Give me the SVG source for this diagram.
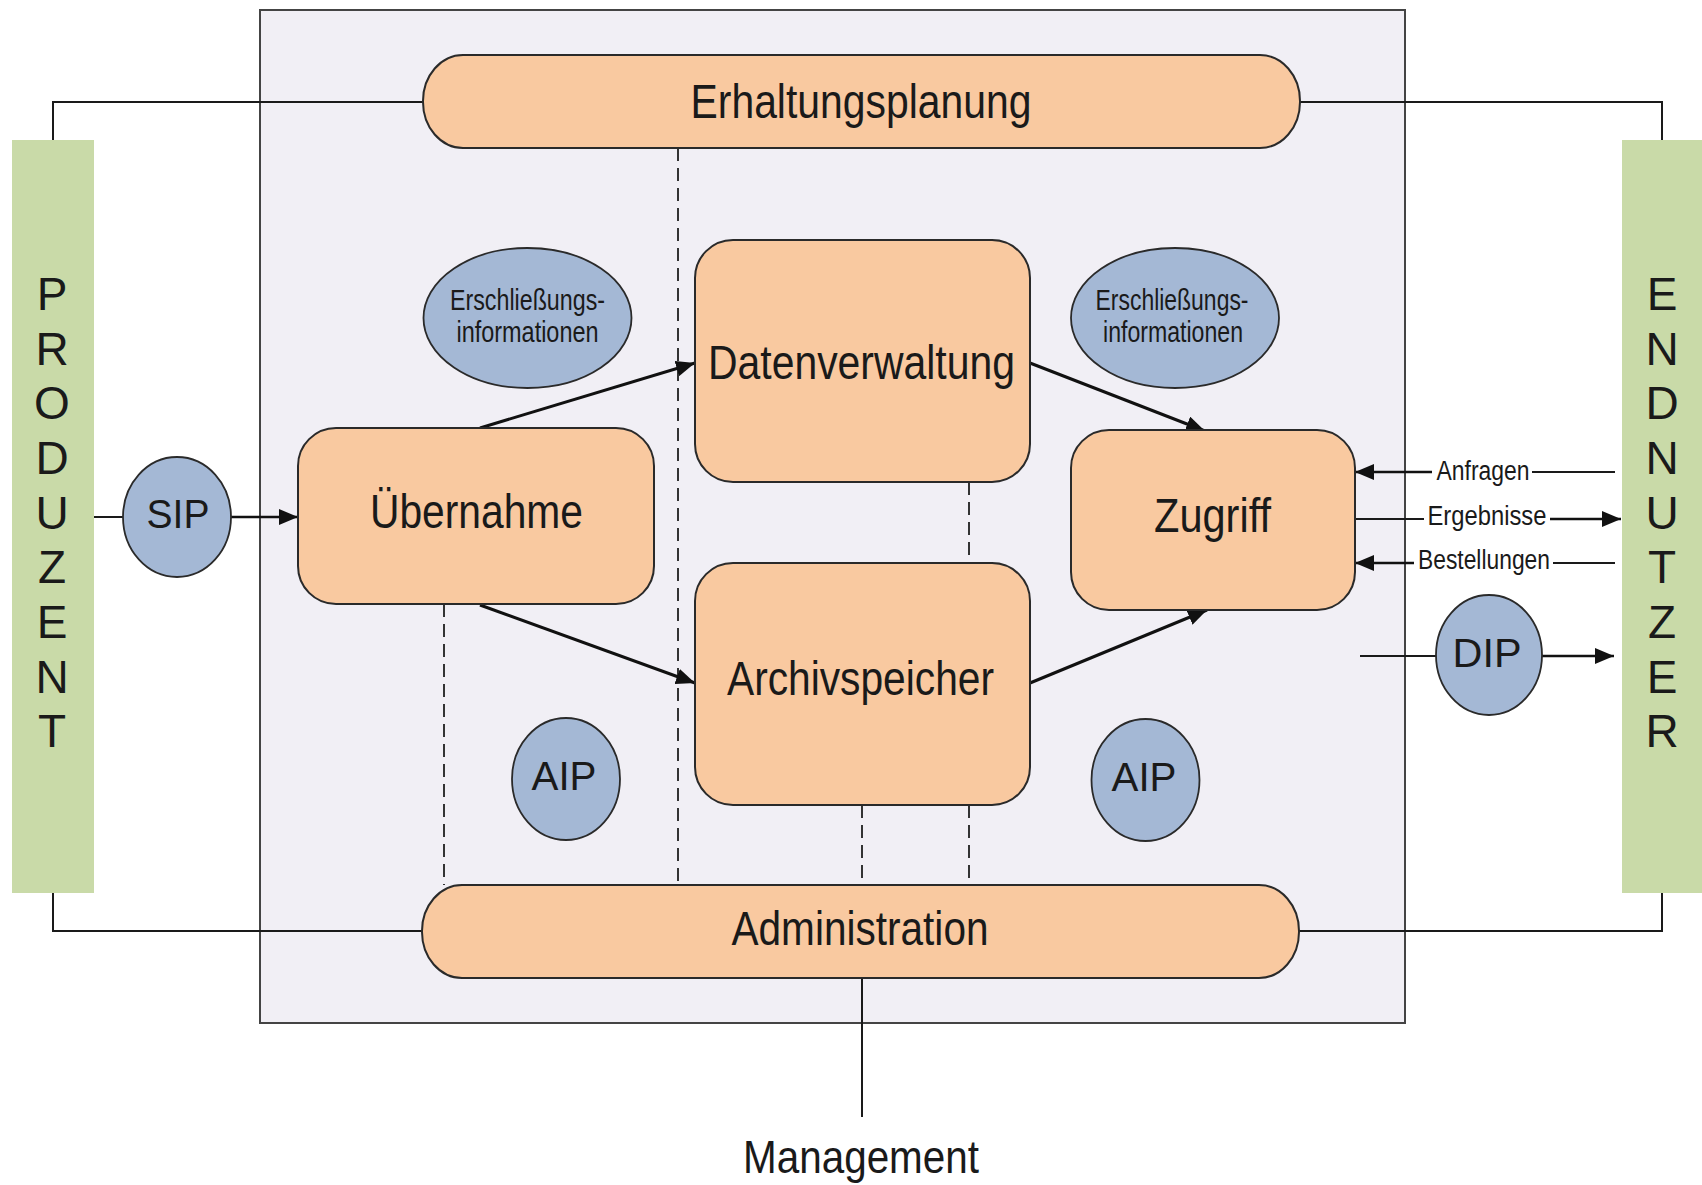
<svg xmlns="http://www.w3.org/2000/svg" width="1702" height="1185" viewBox="0 0 1702 1185">
<style>
text{font-family:"Liberation Sans",Arial,sans-serif;fill:#1a1a1a;text-anchor:middle}
.big{font-size:48px}
.pk{font-size:40px}
.mid{font-size:29px}
.sm{font-size:27px}
.let{font-size:46px}
.box{fill:#f9c9a0;stroke:#2a2a2a;stroke-width:2}
.ell{fill:#a4b8d5;stroke:#2a2a2a;stroke-width:1.8}
.bar{fill:#c9daa8}
.ln{stroke:#1a1a1a;stroke-width:2;fill:none}
.ar{stroke:#111;stroke-width:3;fill:none;marker-end:url(#ah)}
.ar2{stroke:#111;stroke-width:2.5;fill:none;marker-end:url(#ah)}
.dash{stroke:#333;stroke-width:2;stroke-dasharray:13 7;fill:none}
</style>
<defs>
<marker id="ah" markerUnits="userSpaceOnUse" markerWidth="20" markerHeight="16" refX="19" refY="8" orient="auto">
<path d="M0,0 L19,8 L0,16 z" fill="#111"/>
</marker>
</defs>
<rect width="1702" height="1185" fill="#ffffff"/>
<g id="frame">
<rect x="260" y="10" width="1145" height="1013" fill="#f1eff5" stroke="#444" stroke-width="2"/>
</g>
<g id="connectors">
<path class="ln" d="M423,102 H53 V140"/>
<path class="ln" d="M1300,102 H1662 V140"/>
<path class="ln" d="M422,931 H53 V893"/>
<path class="ln" d="M1299,931 H1662 V893"/>
<path class="ln" d="M862,978 V1117"/>
<path class="dash" d="M678,148 V885"/>
<path class="dash" d="M444,604 V885"/>
<path class="dash" d="M969,482 V563"/>
<path class="dash" d="M969,805 V885"/>
<path class="dash" d="M862,805 V885"/>
<path class="ln" d="M94,517 H123"/>
<path class="ar2" d="M231,517 H298"/>
<path class="ar" d="M480,428 L695,363"/>
<path class="ar" d="M480,605 L695,683"/>
<path class="ar" d="M1030,363 L1205,431"/>
<path class="ar" d="M1030,683 L1207,610"/>
<path class="ar2" d="M1432,472 H1355"/>
<path class="ln" d="M1615,472 H1532"/>
<path class="ln" d="M1355,519 H1424"/>
<path class="ar2" d="M1550,519 H1621"/>
<path class="ar2" d="M1414,563 H1355"/>
<path class="ln" d="M1615,563 H1553"/>
<path class="ln" d="M1360,656 H1436"/>
<path class="ar2" d="M1542,656 H1614"/>
</g>
<g id="produzent">
<rect class="bar" x="12" y="140" width="82" height="753"/>
<text class="let" x="52" y="310">P</text>
<text class="let" x="52" y="364.6">R</text>
<text class="let" x="52" y="419">O</text>
<text class="let" x="52" y="474">D</text>
<text class="let" x="52" y="528.5">U</text>
<text class="let" x="52" y="583">Z</text>
<text class="let" x="52" y="638">E</text>
<text class="let" x="52" y="692.5">N</text>
<text class="let" x="52" y="747">T</text>
</g>
<g id="endnutzer">
<rect class="bar" x="1622" y="140" width="80" height="753"/>
<text class="let" x="1662" y="310">E</text>
<text class="let" x="1662" y="364.6">N</text>
<text class="let" x="1662" y="419">D</text>
<text class="let" x="1662" y="474">N</text>
<text class="let" x="1662" y="528.5">U</text>
<text class="let" x="1662" y="583">T</text>
<text class="let" x="1662" y="638">Z</text>
<text class="let" x="1662" y="692.5">E</text>
<text class="let" x="1662" y="747">R</text>
</g>
<g id="erhaltungsplanung">
<rect class="box" x="423" y="55" width="877" height="93" rx="40" ry="46"/>
<text class="big" x="861" y="118" textLength="341" lengthAdjust="spacingAndGlyphs">Erhaltungsplanung</text>
</g>
<g id="administration">
<rect class="box" x="422" y="885" width="877" height="93" rx="40" ry="46"/>
<text class="big" x="860" y="945" textLength="257" lengthAdjust="spacingAndGlyphs">Administration</text>
</g>
<g id="datenverwaltung">
<rect class="box" x="695" y="240" width="335" height="242" rx="38" ry="38"/>
<text class="big" x="861.5" y="379" textLength="307" lengthAdjust="spacingAndGlyphs">Datenverwaltung</text>
</g>
<g id="archivspeicher">
<rect class="box" x="695" y="563" width="335" height="242" rx="38" ry="38"/>
<text class="big" x="860.5" y="695" textLength="267" lengthAdjust="spacingAndGlyphs">Archivspeicher</text>
</g>
<g id="uebernahme">
<rect class="box" x="298" y="428" width="356" height="176" rx="38" ry="38"/>
<text class="big" x="476.5" y="528" textLength="213" lengthAdjust="spacingAndGlyphs">Übernahme</text>
</g>
<g id="zugriff">
<rect class="box" x="1071" y="430" width="284" height="180" rx="38" ry="38"/>
<text class="big" x="1212.5" y="532" textLength="117" lengthAdjust="spacingAndGlyphs">Zugriff</text>
</g>
<g id="erschliessung-links">
<ellipse class="ell" cx="527.5" cy="318" rx="104" ry="70"/>
<text class="mid" x="527.5" y="310" textLength="155" lengthAdjust="spacingAndGlyphs">Erschließungs-</text>
<text class="mid" x="527.5" y="342" textLength="142" lengthAdjust="spacingAndGlyphs">informationen</text>
</g>
<g id="erschliessung-rechts">
<ellipse class="ell" cx="1175" cy="318" rx="104" ry="70"/>
<text class="mid" x="1172" y="310" textLength="153" lengthAdjust="spacingAndGlyphs">Erschließungs-</text>
<text class="mid" x="1173" y="342" textLength="140" lengthAdjust="spacingAndGlyphs">informationen</text>
</g>
<g id="sip">
<ellipse class="ell" cx="177" cy="517" rx="54" ry="60"/>
<text class="pk" x="178" y="528" textLength="63" lengthAdjust="spacingAndGlyphs">SIP</text>
</g>
<g id="aip-links">
<ellipse class="ell" cx="566" cy="779" rx="54" ry="61"/>
<text class="pk" x="564" y="790" textLength="65" lengthAdjust="spacingAndGlyphs">AIP</text>
</g>
<g id="aip-rechts">
<ellipse class="ell" cx="1145.5" cy="780" rx="54" ry="61"/>
<text class="pk" x="1144" y="791" textLength="65" lengthAdjust="spacingAndGlyphs">AIP</text>
</g>
<g id="dip">
<ellipse class="ell" cx="1489" cy="655" rx="53" ry="60"/>
<text class="pk" x="1487" y="667" textLength="69" lengthAdjust="spacingAndGlyphs">DIP</text>
</g>
<g id="labels">
<text class="sm" x="1483" y="480" textLength="93" lengthAdjust="spacingAndGlyphs">Anfragen</text>
<text class="sm" x="1487" y="525" textLength="119" lengthAdjust="spacingAndGlyphs">Ergebnisse</text>
<text class="sm" x="1484" y="569" textLength="132" lengthAdjust="spacingAndGlyphs">Bestellungen</text>
<text class="big" style="font-size:46px" x="861" y="1173" textLength="236" lengthAdjust="spacingAndGlyphs">Management</text>
</g>
</svg>
